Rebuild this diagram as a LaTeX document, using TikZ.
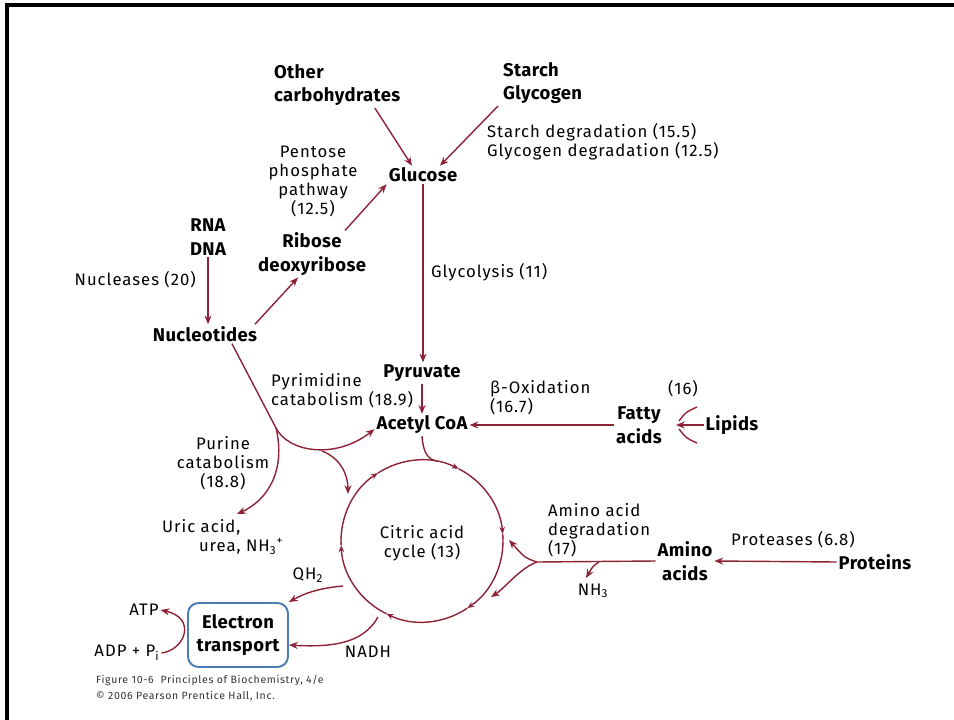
\documentclass[tikz,border=0pt]{standalone}
\usepackage{fontspec}
\setmainfont{Fira Sans}
\newfontfamily\labfont[LetterSpace=6]{Fira Sans}
\newfontfamily\molfont[LetterSpace=2]{Fira Sans}
\newfontfamily\capfont[LetterSpace=6]{Fira Sans}
\usetikzlibrary{arrows.meta}
\definecolor{pathred}{RGB}{140,35,55}
\definecolor{boxblue}{RGB}{75,125,180}
\tikzset{
  mol/.style={font=\molfont\bfseries\fontsize{10.5}{13.5}\selectfont, align=center, inner sep=1pt},
  enz/.style={font=\labfont\fontsize{9.5}{10.8}\selectfont, align=center, inner sep=1pt},
  rx/.style={draw=pathred, line width=0.8pt, -{Stealth[length=5pt,width=4pt]}},
  rl/.style={draw=pathred, line width=0.8pt},
  cyc/.style={draw=pathred, line width=0.8pt, -{Stealth[length=4pt,width=3.2pt]}},
  etbox/.style={mol, draw=boxblue, line width=1.1pt, rounded corners=6pt,
    minimum width=2cm, minimum height=1.28cm},
}
\begin{document}
\begin{tikzpicture}[x=0.02cm,y=-0.02cm]
  \useasboundingbox (0,0) rectangle (954,720);
  \draw [line width=1.8pt] (7,720) -- (7,5) -- (954,5); % frame
  % sugars
  \node [mol, anchor=west, align=left] (other) at (272,85) {Other\\carbohydrates};
  \node [mol, anchor=west, align=left] (starch) at (501,83) {Starch\\Glycogen};
  \node [enz, anchor=west, align=left] (sdeg) at (485,142) {Starch degradation (15.5)\\Glycogen degradation (12.5)};
  \node [mol] (glucose) at (423,175) {Glucose};
  \node [enz] (pentose) at (313,181) {Pentose\\phosphate\\pathway\\(12.5)};
  \node [mol] (rna) at (208,237) {RNA\\DNA};
  \node [mol] (ribose) at (312,254) {Ribose\\deoxyribose};
  \node [enz, anchor=east] (nucleases) at (198,280) {Nucleases (20)};
  \node [mol] (nucleotides) at (205,334) {Nucleotides};
  \node [enz, anchor=west] (glycolysis) at (429,272) {Glycolysis (11)};
  \node [mol] (pyruvate) at (422,373) {Pyruvate};
  \node [mol] (acetyl) at (422,425) {Acetyl CoA};
  \node [enz, anchor=west, align=left] (pyrimidine) at (269,391) {Pyrimidine\\catabolism (18.9)};
  \node [enz] (purine) at (223,463) {Purine\\catabolism\\(18.8)};
  \node [enz, anchor=west, align=left] (uric) at (160,537) {Uric acid,\\\hspace{21pt}urea, NH\textsubscript{3}\textsuperscript{+}};
  % lipids
  \node [enz, anchor=west, align=left] (beta) at (488,398) {β-Oxidation\\(16.7)};
  \node [mol] (fatty) at (639,425) {Fatty\\acids};
  \node [enz] (sixteen) at (683,389) {(16)};
  \node [mol] (lipids) at (732,425) {Lipids};
  % proteins
  \node [enz, anchor=west, align=left] (aadeg) at (546,530) {Amino acid\\degradation\\(17)};
  \node [mol] (amino) at (685,561) {Amino\\acids};
  \node [enz] (proteases) at (793,540) {Proteases (6.8)};
  \node [mol] (proteins) at (875,562) {Proteins};
  \node [enz] (nhthree) at (593,591) {NH\textsubscript{3}};
  % cycle and electron transport
  \node [enz] (citric) at (422,543) {Citric acid\\cycle (13)};
  \node [enz] (qhtwo) at (308,575) {QH\textsubscript{2}};
  \node [enz] (nadh) at (368,652) {NADH};
  \node [etbox] (et) at (238,635) {Electron\\transport};
  \node [enz] (atp) at (144,610) {ATP};
  \node [enz] (adp) at (127,653) {ADP + P\textsubscript{i}};
  \node [font=\capfont\fontsize{6}{9}\selectfont, anchor=west, align=left, text=black!80] (credit) at (90,688)
    {Figure 10-6 \ Principles of Biochemistry, 4/e\\© 2006 Pearson Prentice Hall, Inc.};
  % branch points
  \coordinate (nfork) at (276,428);
  \coordinate (nmid) at (322,451);
  \coordinate (afork) at (537,562);
  \coordinate (lfork) at (676,425);
  % arrows
  \draw [rx] ([xshift=-0.55cm]other.south east) -- ([xshift=-0.22cm]glucose.north);
  \draw [rx] ([xshift=-0.06cm]starch.south west) -- ([xshift=0.34cm]glucose.north);
  \draw [rx] ([xshift=0.66cm]ribose.north) -- (glucose.south west);
  \draw [rx] ([xshift=1cm]nucleotides.north) -- ([xshift=-0.28cm]ribose.south);
  \draw [rx] (rna.south) -- (rna.south |- nucleotides.north);
  \draw [rx] (glucose.south) -- (glucose.south |- pyruvate.north);
  \draw [rx] (pyruvate.south) -- (acetyl.north);
  \draw [rx] (fatty.west) -- (acetyl.east);
  \draw [rx] (lipids.west) -- (lfork);
  \draw [rl] (697,407) .. controls (686,412) .. (679,421);
  \draw [rl] (697,443) .. controls (686,438) .. (679,429);
  \draw [rx] (proteins.west) -- (amino.east);
  \draw [rl] (amino.west) -- (afork);
  \draw [rx] (afork) .. controls (525,558) .. (509,540);
  \draw [rx] (afork) .. controls (520,568) and (505,588) .. (491,597);
  \draw [rx] (599,562) .. controls (593,566) .. (586,578);
  \draw [rl] ([xshift=0.54cm]nucleotides.south) -- (nfork);
  \draw [rx] (nfork) .. controls (288,452) and (335,460) .. ([yshift=0.14cm]acetyl.south west);
  \draw [rx] (nfork) .. controls (286,470) and (268,500) .. (237,514);
  \draw [rx] (nmid) .. controls (340,458) and (348,474) .. (348,494);
  \draw [rl] (acetyl.south) .. controls (423,452) and (428,460) .. (437,461);
  % citric acid cycle
  \foreach \a/\b in {-183/-123, -123/-63, -63/-5, -5/56, 56/116, 116/177}
    \draw [cyc] ([shift={(\a:81)}]422,541) arc [start angle=\a, end angle=\b, radius=81];
  \draw [rx] (343,586) .. controls (320,588) and (305,593) .. (et.north east);
  \draw [rx] (378,617) .. controls (365,640) and (340,648) .. ([yshift=-0.2cm]et.east);
  \draw [rx] (adp.east) .. controls (185,650) and (197,618) .. (atp.east);
\end{tikzpicture}
\end{document}
